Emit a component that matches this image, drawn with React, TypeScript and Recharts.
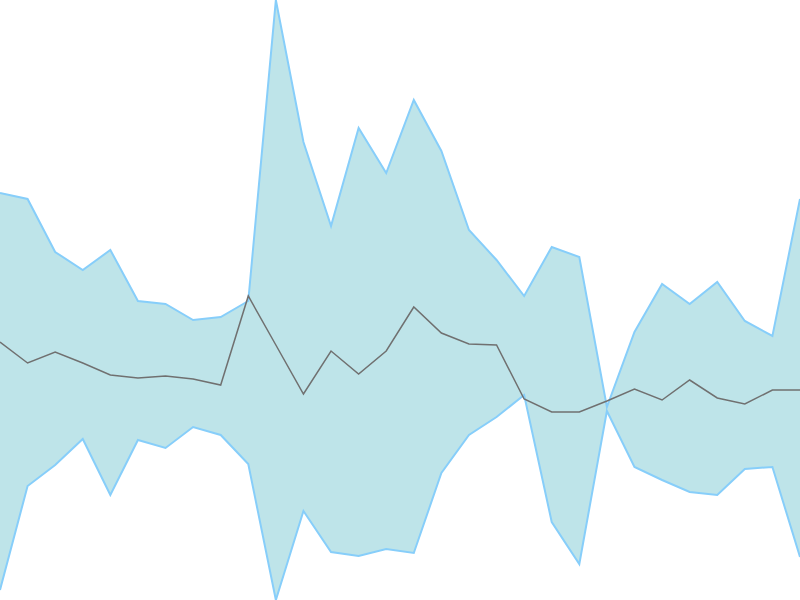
import React from "react";
import { ComposedChart, Area, Line, XAxis, YAxis } from "recharts";

// Values are in chart units (0 = bottom, 600 = top).
const categories: number[] = Array.from({ length: 30 }, (_, i) => i);

const upper: number[] = [
  407, 401, 348, 330, 350, 299, 296, 280, 283, 299,
  600, 458, 374, 472, 427, 500, 449, 370, 340, 304,
  353, 343, 193, 268, 316, 296, 318, 279, 264, 401,
];

const lower: number[] = [
  10, 114, 135, 161, 105, 160, 152, 173, 165, 136,
  0, 89, 48, 44, 51, 47, 127, 165, 183, 205,
  78, 36, 189, 133, 120, 108, 105, 131, 133, 43,
];

const middle: number[] = [
  258, 237, 248, 237, 225, 222, 224, 221, 215, 304,
  255, 206, 249, 226, 249, 293, 267, 256, 255, 201,
  188, 188, 199, 211, 200, 220, 202, 196, 210, 210,
];

const data = categories.map((c, i) => ({
  idx: c,
  range: [lower[i], upper[i]],
  mid: middle[i],
}));

export default function App() {
  return (
    <div style={{ width: 800, height: 600 }}>
      <style>{`body{margin:0;}`}</style>
      <ComposedChart
        width={800}
        height={600}
        data={data}
        margin={{ top: 0, right: 0, bottom: 0, left: 0 }}
      >
        <XAxis dataKey="idx" type="number" domain={[0, 29]} hide />
        <YAxis type="number" domain={[0, 600]} hide />
        <Area
          type="linear"
          dataKey="range"
          stroke="#87cefa"
          strokeWidth={2}
          fill="#bee4e9"
          fillOpacity={1}
          isAnimationActive={false}
          dot={false}
          activeDot={false}
        />
        <Line
          type="linear"
          dataKey="mid"
          stroke="#707070"
          strokeWidth={1.5}
          dot={false}
          activeDot={false}
          isAnimationActive={false}
        />
      </ComposedChart>
    </div>
  );
}
